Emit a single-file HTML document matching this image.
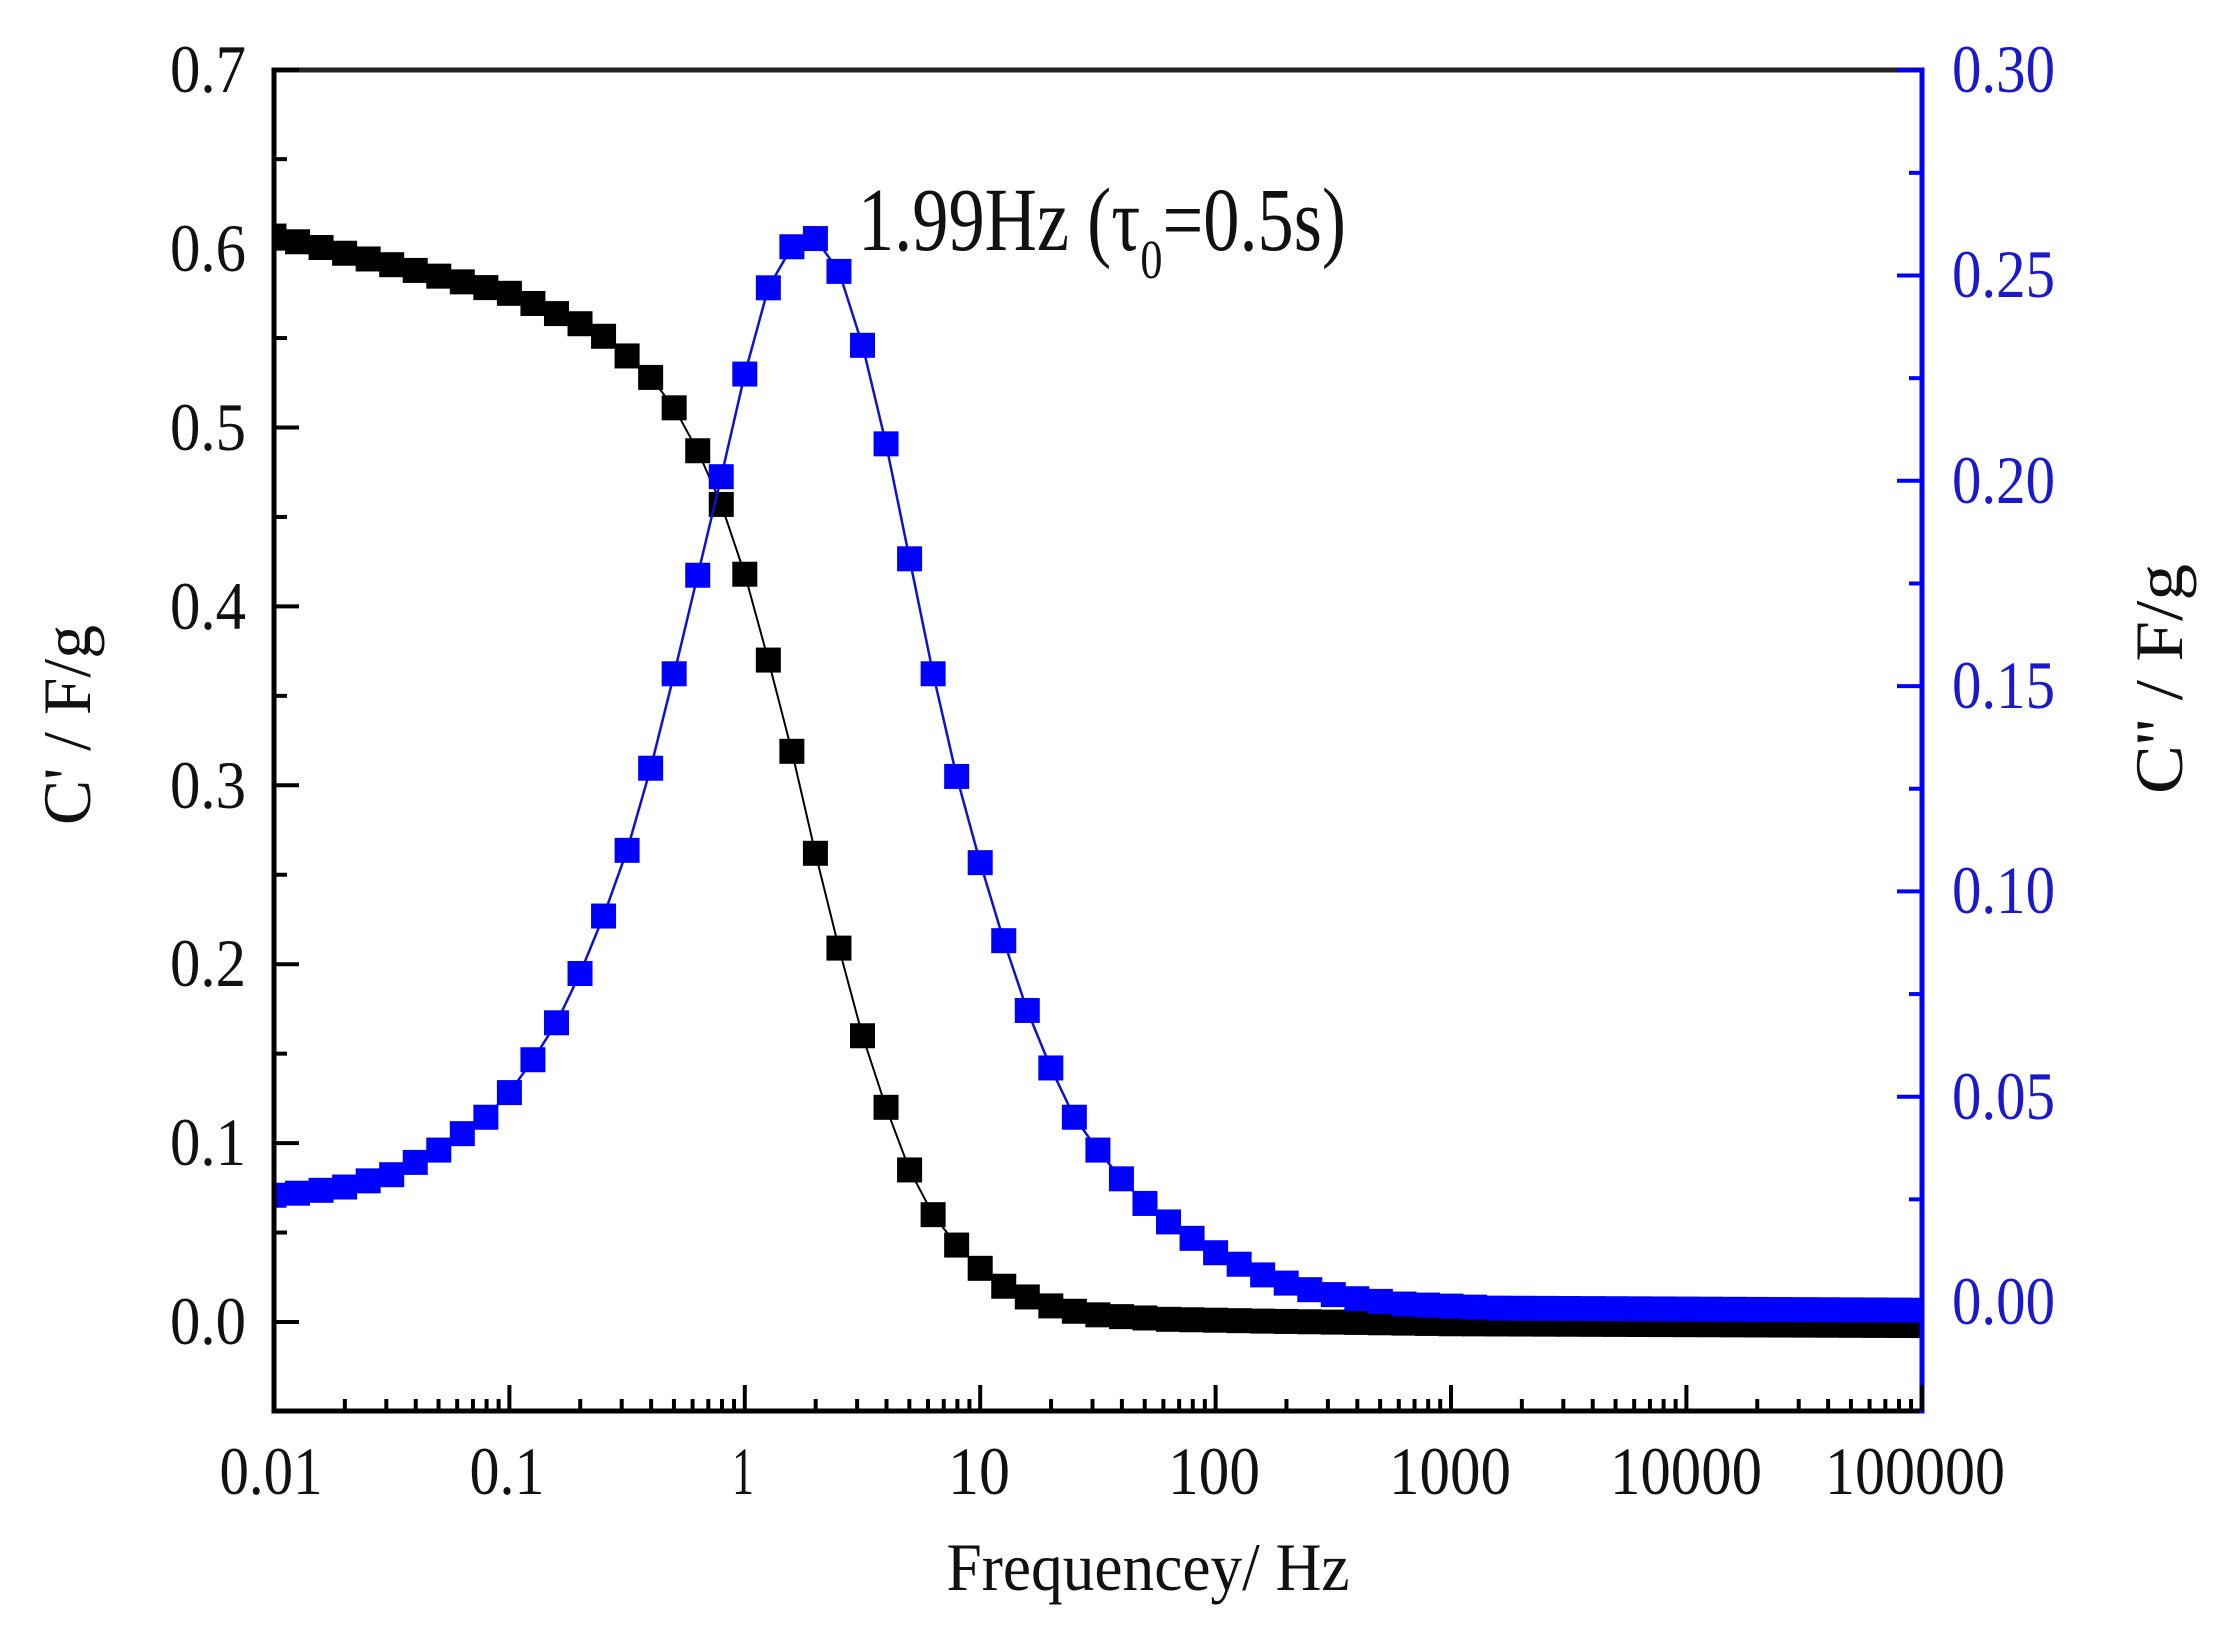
<!DOCTYPE html>
<html><head><meta charset="utf-8"><style>
html,body{margin:0;padding:0;background:#fff;}
svg{display:block;}
text{font-family:"Liberation Serif","DejaVu Serif",serif;}
</style></head><body>
<svg id="s" width="2213" height="1641" viewBox="0 0 2213 1641" xmlns="http://www.w3.org/2000/svg">
<rect width="2213" height="1641" fill="#fff"/>
<g id="data"></g>
<g id="axes"></g>
<g font-size="68" fill="#111" text-anchor="end">
<text x="246" y="92" textLength="76" lengthAdjust="spacingAndGlyphs">0.7</text>
<text x="246" y="271" textLength="76" lengthAdjust="spacingAndGlyphs">0.6</text>
<text x="246" y="450" textLength="76" lengthAdjust="spacingAndGlyphs">0.5</text>
<text x="246" y="629" textLength="76" lengthAdjust="spacingAndGlyphs">0.4</text>
<text x="246" y="808" textLength="76" lengthAdjust="spacingAndGlyphs">0.3</text>
<text x="246" y="986" textLength="76" lengthAdjust="spacingAndGlyphs">0.2</text>
<text x="246" y="1165" textLength="76" lengthAdjust="spacingAndGlyphs">0.1</text>
<text x="246" y="1344" textLength="76" lengthAdjust="spacingAndGlyphs">0.0</text>
</g>
<g font-size="68" fill="#1a1acc">
<text x="1952" y="92" textLength="103" lengthAdjust="spacingAndGlyphs">0.30</text>
<text x="1952" y="297" textLength="103" lengthAdjust="spacingAndGlyphs">0.25</text>
<text x="1952" y="503" textLength="103" lengthAdjust="spacingAndGlyphs">0.20</text>
<text x="1952" y="708" textLength="103" lengthAdjust="spacingAndGlyphs">0.15</text>
<text x="1952" y="913" textLength="103" lengthAdjust="spacingAndGlyphs">0.10</text>
<text x="1952" y="1119" textLength="103" lengthAdjust="spacingAndGlyphs">0.05</text>
<text x="1952" y="1324" textLength="103" lengthAdjust="spacingAndGlyphs">0.00</text>
</g>
<g font-size="68" fill="#111" text-anchor="middle">
<text x="271" y="1494" textLength="103" lengthAdjust="spacingAndGlyphs">0.01</text>
<text x="507" y="1494" textLength="75" lengthAdjust="spacingAndGlyphs">0.1</text>
<text x="743" y="1494" textLength="22" lengthAdjust="spacingAndGlyphs">1</text>
<text x="979" y="1494" textLength="62" lengthAdjust="spacingAndGlyphs">10</text>
<text x="1214" y="1494" textLength="92" lengthAdjust="spacingAndGlyphs">100</text>
<text x="1450" y="1494" textLength="122" lengthAdjust="spacingAndGlyphs">1000</text>
<text x="1686" y="1494" textLength="152" lengthAdjust="spacingAndGlyphs">10000</text>
<text x="1915" y="1494" textLength="180" lengthAdjust="spacingAndGlyphs">100000</text>
</g>
<text x="1148" y="1590" font-size="68" fill="#111" text-anchor="middle" textLength="403" lengthAdjust="spacingAndGlyphs">Frequencey/ Hz</text>
<text transform="translate(90,725) rotate(-90)" font-size="68" fill="#111" text-anchor="middle" textLength="200" lengthAdjust="spacingAndGlyphs">C' / F/g</text>
<text transform="translate(2182,679) rotate(-90)" font-size="68" fill="#111" text-anchor="middle" textLength="230" lengthAdjust="spacingAndGlyphs">C'' / F/g</text>
<text x="858" y="250" font-size="90" fill="#111" textLength="488" lengthAdjust="spacingAndGlyphs">1.99Hz (τ<tspan font-size="55" dy="28">0</tspan><tspan dy="-28">=0.5s)</tspan></text>
</svg>
<script>
(function(){
var NS="http://www.w3.org/2000/svg";
var X0=274,DEC=235.4,YT=70,YB=1411,XR=1922;
function xf(f){return X0+(Math.log10(f)+2)*DEC;}
function yl(v){return 1322-v*1789;}
function yr(v){return 1302-v*4106;}
function el(p,n,a){var e=document.createElementNS(NS,n);for(var k in a)e.setAttribute(k,a[k]);p.appendChild(e);return e;}
function interp(tab,lf){
 if(lf<=tab[0][0])return tab[0][1];
 for(var i=1;i<tab.length;i++){if(lf<=tab[i][0]){var a=tab[i-1],b=tab[i];return a[1]+(b[1]-a[1])*(lf-a[0])/(b[0]-a[0]);}}
 return tab[tab.length-1][1];
}
var blk=[[-2,0.607],[-1,0.575],[-0.7,0.558],[-0.6,0.551],[-0.5,0.54],[-0.4,0.528],[-0.3,0.511],[-0.2,0.487],[-0.1,0.457],[0,0.418],[0.1,0.370],[0.2,0.319],[0.3,0.262],[0.4,0.209],[0.5,0.16],[0.6,0.12],[0.7,0.085],[0.8,0.06],[0.9,0.043],[1.0,0.030],[1.1,0.020],[1.2,0.014],[1.3,0.009],[1.4,0.006],[1.5,0.004],[1.6,0.003],[1.8,0.0015],[2.2,0.0005],[3,-0.001],[5,-0.002]];
var blu=[[-2,0.026],[-1.9,0.0265],[-1.8,0.0272],[-1.7,0.028],[-1.6,0.0295],[-1.5,0.031],[-1.4,0.034],[-1.3,0.037],[-1.2,0.041],[-1.1,0.045],[-1,0.051],[-0.9,0.059],[-0.8,0.068],[-0.7,0.080],[-0.6,0.094],[-0.5,0.110],[-0.4,0.130],[-0.3,0.153],[-0.2,0.177],[-0.1,0.201],[0,0.226],[0.1,0.247],[0.2,0.257],[0.3,0.259],[0.4,0.251],[0.5,0.233],[0.6,0.209],[0.7,0.181],[0.8,0.153],[0.9,0.128],[1.0,0.107],[1.1,0.088],[1.2,0.071],[1.3,0.057],[1.4,0.045],[1.5,0.037],[1.6,0.030],[1.7,0.024],[1.8,0.0195],[1.9,0.0155],[2.0,0.012],[2.1,0.0092],[2.2,0.0066],[2.3,0.0046],[2.4,0.003],[2.5,0.0018],[2.6,0.0008],[2.8,-0.0005],[3.2,-0.0015],[5,-0.002]];
var d=document.getElementById('data');
var ptsB=[],ptsK=[];
for(var k=0;k<=70;k++){var lf=-2+k/10;var x=xf(Math.pow(10,lf));
 ptsK.push([x,yl(interp(blk,lf))]);ptsB.push([x,yr(interp(blu,lf))]);}
var S=25;
el(d,'polyline',{points:ptsK.map(function(p){return p[0]+','+p[1]}).join(' '),fill:'none',stroke:'#000','stroke-width':2});
ptsK.forEach(function(p){var x0=Math.max(p[0]-S/2,X0),x1=Math.min(p[0]+S/2,XR);el(d,'rect',{x:x0,y:p[1]-S/2,width:x1-x0,height:S,fill:'#000'});});
el(d,'polyline',{points:ptsB.map(function(p){return p[0]+','+p[1]}).join(' '),fill:'none',stroke:'#1010d0','stroke-width':2.5});
ptsB.forEach(function(p){var x0=Math.max(p[0]-S/2,X0),x1=Math.min(p[0]+S/2,XR);el(d,'rect',{x:x0,y:p[1]-S/2,width:x1-x0,height:S,fill:'#0000ff'});});
var a=document.getElementById('axes');
el(a,'line',{x1:X0,y1:YT,x2:XR,y2:YT,stroke:'#222','stroke-width':5});
el(a,'line',{x1:X0,y1:YT-2.5,x2:X0,y2:YB+2.5,stroke:'#000','stroke-width':5});
el(a,'line',{x1:X0,y1:YB,x2:XR,y2:YB,stroke:'#000','stroke-width':5});
el(a,'line',{x1:XR,y1:YT-2.5,x2:XR,y2:YB+2.5,stroke:'#0000ff','stroke-width':5});
for(var i=0;i<=14;i++){var v=i*0.05;var y=yl(v);var L=(i%2==0)?25:13;el(a,'line',{x1:X0,y1:y,x2:X0+L,y2:y,stroke:'#000','stroke-width':4});}
for(var i=0;i<=12;i++){var v=i*0.025;var y=yr(v);var L=(i%2==0)?25:13;el(a,'line',{x1:XR,y1:y,x2:XR-L,y2:y,stroke:'#0000ff','stroke-width':4});}
for(var e=-2;e<=5;e++){for(var m=1;m<=9;m++){if(e==5&&m>1)break;var x=xf(m*Math.pow(10,e));if(m==1&&e==-2)continue;var L=m==1?26:12;el(a,'line',{x1:x,y1:YB,x2:x,y2:YB-L,stroke:'#000','stroke-width':4});}}
})();
</script>
</body></html>
